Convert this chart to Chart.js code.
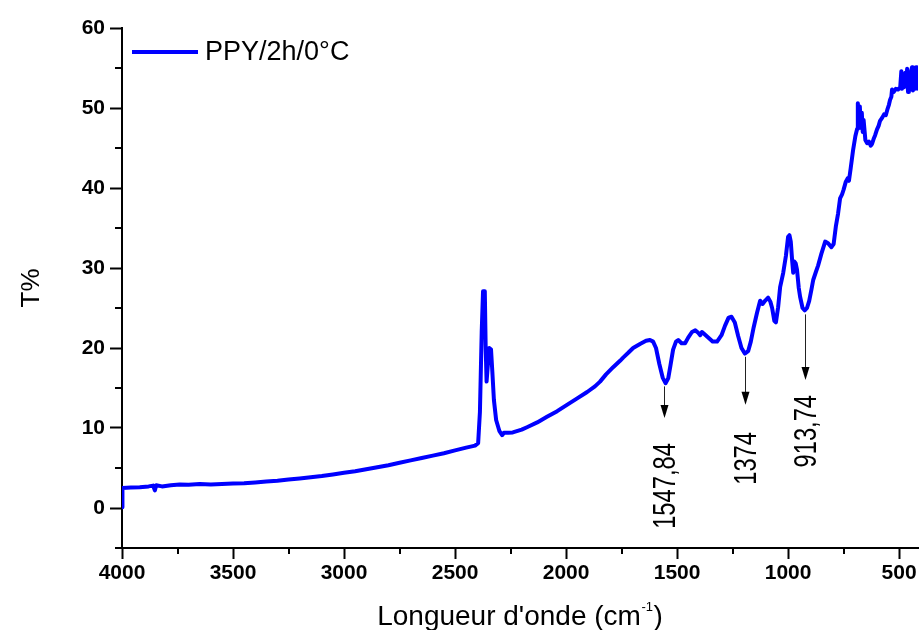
<!DOCTYPE html>
<html><head><meta charset="utf-8">
<script src="https://cdn.jsdelivr.net/npm/chart.js@4/dist/chart.umd.min.js"></script>
<style>html,body{margin:0;padding:0;background:#fff}canvas{display:block}</style>
</head><body>
<canvas id="c" width="922" height="630"></canvas>
<script>
// ---- data ----
const wavenumbers = [4000,3998,3960,3920,3880,3860,3852,3846,3820,3780,3740,3700,3650,3600,3550,3500,3450,3400,3350,3300,3250,3200,3150,3100,3050,3000,2950,2900,2850,2800,2750,2700,2650,2600,2550,2500,2450,2410,2396,2388,2380,2374,2366,2362,2358,2352,2346,2338,2332,2325,2315,2300,2288,2280,2260,2240,2200,2176,2130,2086,2040,1996,1950,1905,1870,1847,1820,1788,1757,1743,1720,1698,1667,1640,1622,1608,1595,1580,1565,1552,1540,1530,1518,1505,1495,1480,1464,1450,1433,1418,1405,1396,1388,1380,1360,1340,1320,1300,1284,1268,1255,1240,1225,1210,1195,1180,1168,1155,1140,1126,1115,1104,1090,1080,1072,1062,1055,1045,1036,1022,1010,1000,994,988,982,977,972,966,960,952,946,935,925,915,905,895,887,875,865,850,833,820,805,795,785,775,766,757,750,740,732,726,718,707,697,689,686,682,677,672,668,664,660,652,644,636,628,622,614,608,600,592,586,576,568,560,552,546,541,535,532,525,515,505,495,490,487,482,478,472,468,464,460,456,450,446,442,438,433,428,424,420,416,415];
const transmittance = [0.1,2.5,2.55,2.6,2.7,2.8,2.2,2.85,2.7,2.85,2.95,2.9,3.0,2.95,3.0,3.05,3.1,3.2,3.3,3.4,3.55,3.7,3.85,4.0,4.2,4.4,4.6,4.85,5.1,5.35,5.65,5.95,6.25,6.55,6.85,7.2,7.55,7.8,8.1,12,22,27.1,27.1,20,15.8,18,20,19.8,17,13.5,11,9.6,9.1,9.4,9.4,9.45,9.8,10.1,10.7,11.4,12.1,12.9,13.7,14.5,15.2,15.8,16.7,17.6,18.4,18.8,19.4,20.0,20.5,20.9,21.0,20.8,20.0,18.0,16.3,15.6,16.2,17.8,19.8,20.8,21.0,20.6,20.6,21.3,22.0,22.2,21.9,21.6,22.0,21.8,21.3,20.8,20.8,21.6,22.8,23.8,23.9,23.2,21.5,20.0,19.3,19.6,20.8,22.6,24.4,25.9,25.5,25.9,26.3,25.8,25.0,23.4,23.2,25.1,27.6,29.4,31.5,33.9,34.1,33.3,31,29.4,30.8,30.6,29.8,27.5,26.4,25.0,24.7,25.0,25.9,27.3,28.5,29.5,30.3,31.8,33.3,33.1,32.6,33.0,35.2,36.8,38.7,39.2,39.8,40.8,41.2,40.9,42.5,44.8,46.5,47.4,50.6,48.6,50.2,47.5,49.4,47.0,48.5,46.0,45.6,45.8,45.3,45.5,46.2,46.6,47.3,47.8,48.4,48.8,49.2,49.1,49.9,50.4,51.0,51.4,52.3,52.0,52.4,52.3,52.6,54.6,52.4,53.8,52.6,54.4,52.8,54.9,52.0,54.0,52.8,54.6,55.1,52.2,53.9,52.4,55.1,53.0,55.0,52.4];
const seriesLabel = 'PPY/2h/0°C';
const xTicks = [4000,3500,3000,2500,2000,1500,1000,500];
const xMinorTicks = [3750,3250,2750,2250,1750,1250,750];
const yTicks = [0,10,20,30,40,50,60];
const yMinorTicks = [-5,5,15,25,35,45,55];
const peakLabels = ['1547,84','1374','913,74'];
const peakWavenumbers = [1557,1194,925];
// annotation geometry in data units (T%)
const arrowFrom = [15.2, 18.9, 24.2];
const arrowTo = [11.25, 12.9, 16.0];
const labelCenter = [2.75, 6.2, 9.6];

const FONT = '"Liberation Sans", Arial, Helvetica, sans-serif';
const BLUE = '#0000ff';

const extras = {
  id: 'extras',
  afterDraw(chart) {
    const ctx = chart.ctx, xs = chart.scales.x, ys = chart.scales.y, ca = chart.chartArea;
    ctx.save();
    // minor ticks
    ctx.strokeStyle = '#000'; ctx.lineWidth = 2;
    xMinorTicks.forEach(v => {
      const px = Math.round(xs.getPixelForValue(v));
      ctx.beginPath(); ctx.moveTo(px, ca.bottom); ctx.lineTo(px, ca.bottom + 6); ctx.stroke();
    });
    yMinorTicks.forEach(v => {
      const py = Math.round(ys.getPixelForValue(v));
      ctx.beginPath(); ctx.moveTo(ca.left - 7, py); ctx.lineTo(ca.left, py); ctx.stroke();
    });
    // peak arrows + labels
    peakLabels.forEach((lab, i) => {
      const px = Math.round(xs.getPixelForValue(peakWavenumbers[i])) + 0.5;
      const y1 = ys.getPixelForValue(arrowFrom[i]);
      const y2 = ys.getPixelForValue(arrowTo[i]);
      ctx.strokeStyle = '#222'; ctx.lineWidth = 1;
      ctx.beginPath(); ctx.moveTo(px, y1); ctx.lineTo(px, y2 - 10); ctx.stroke();
      ctx.fillStyle = '#000';
      ctx.beginPath(); ctx.moveTo(px, y2); ctx.lineTo(px - 4, y2 - 13); ctx.lineTo(px + 4, y2 - 13); ctx.closePath(); ctx.fill();
      const fs = 32;
      ctx.save();
      ctx.translate(px - 0.5, ys.getPixelForValue(labelCenter[i]));
      ctx.rotate(-Math.PI / 2);
      ctx.scale(0.74, 1);
      ctx.font = fs + 'px ' + FONT;
      ctx.textAlign = 'center'; ctx.textBaseline = 'alphabetic';
      ctx.fillText(lab, 0, fs * 0.358);
      ctx.restore();
    });
    // legend
    ctx.strokeStyle = BLUE; ctx.lineWidth = 4;
    ctx.beginPath(); ctx.moveTo(132, 52); ctx.lineTo(198, 52); ctx.stroke();
    ctx.fillStyle = '#000'; ctx.font = '27px ' + FONT;
    ctx.textAlign = 'left'; ctx.textBaseline = 'middle';
    ctx.fillText(seriesLabel, 205, 53);
    // y title
    ctx.save();
    ctx.translate(30, 288); ctx.rotate(-Math.PI / 2);
    ctx.font = '26px ' + FONT; ctx.textAlign = 'center'; ctx.textBaseline = 'alphabetic';
    ctx.fillText('T%', 0, 26 * 0.358);
    ctx.restore();
    // x title with superscript
    const main = "Longueur d'onde (cm", sup = '-1', end = ')';
    ctx.font = '28px ' + FONT; const w1 = ctx.measureText(main).width, w3 = ctx.measureText(end).width;
    ctx.font = '13px ' + FONT; const w2 = ctx.measureText(sup).width;
    const cx = (ca.left + ca.right) / 2;
    let x0 = cx - (w1 + w2 + w3 + 1) / 2;
    const base = 625;
    ctx.textAlign = 'left'; ctx.textBaseline = 'alphabetic';
    ctx.font = '28px ' + FONT; ctx.fillText(main, x0, base);
    ctx.font = '13px ' + FONT; ctx.fillText(sup, x0 + w1 + 0.5, base - 14);
    ctx.font = '28px ' + FONT; ctx.fillText(end, x0 + w1 + w2 + 1, base);
    ctx.restore();
  }
};

new Chart(document.getElementById('c'), {
  type: 'line',
  data: {
    datasets: [{
      label: seriesLabel,
      data: wavenumbers.map((w, i) => ({ x: w, y: transmittance[i] })),
      borderColor: BLUE, borderWidth: 4, pointRadius: 0, tension: 0, fill: false,
      borderJoinStyle: 'round', borderCapStyle: 'round'
    }]
  },
  options: {
    responsive: false, animation: false, devicePixelRatio: 1,
    layout: { padding: { left: 0, right: 4, top: 28, bottom: 0 } },
    plugins: { legend: { display: false }, tooltip: { enabled: false } },
    scales: {
      x: {
        type: 'linear', reverse: true, min: 415, max: 4000,
        afterBuildTicks: s => { s.ticks = xTicks.map(v => ({ value: v })); },
        afterFit: s => { s.height = 82; },
        border: { display: true, color: '#000', width: 2 },
        grid: { display: true, drawOnChartArea: false, drawTicks: true, tickLength: 11, tickWidth: 2, tickColor: '#000' },
        ticks: { color: '#000', font: { family: FONT, size: 21, weight: 'bold' }, padding: 2, maxRotation: 0, autoSkip: false, callback: v => String(v) }
      },
      y: {
        type: 'linear', min: -5, max: 60,
        afterBuildTicks: s => { s.ticks = yTicks.map(v => ({ value: v })); },
        afterFit: s => { s.width = 122; },
        border: { display: true, color: '#000', width: 2 },
        grid: { display: true, drawOnChartArea: false, drawTicks: true, tickLength: 12, tickWidth: 2, tickColor: '#000' },
        ticks: { color: '#000', font: { family: FONT, size: 21, weight: 'bold' }, padding: 5, autoSkip: false, callback: v => String(v) }
      }
    }
  },
  plugins: [extras]
});
</script>
</body></html>
